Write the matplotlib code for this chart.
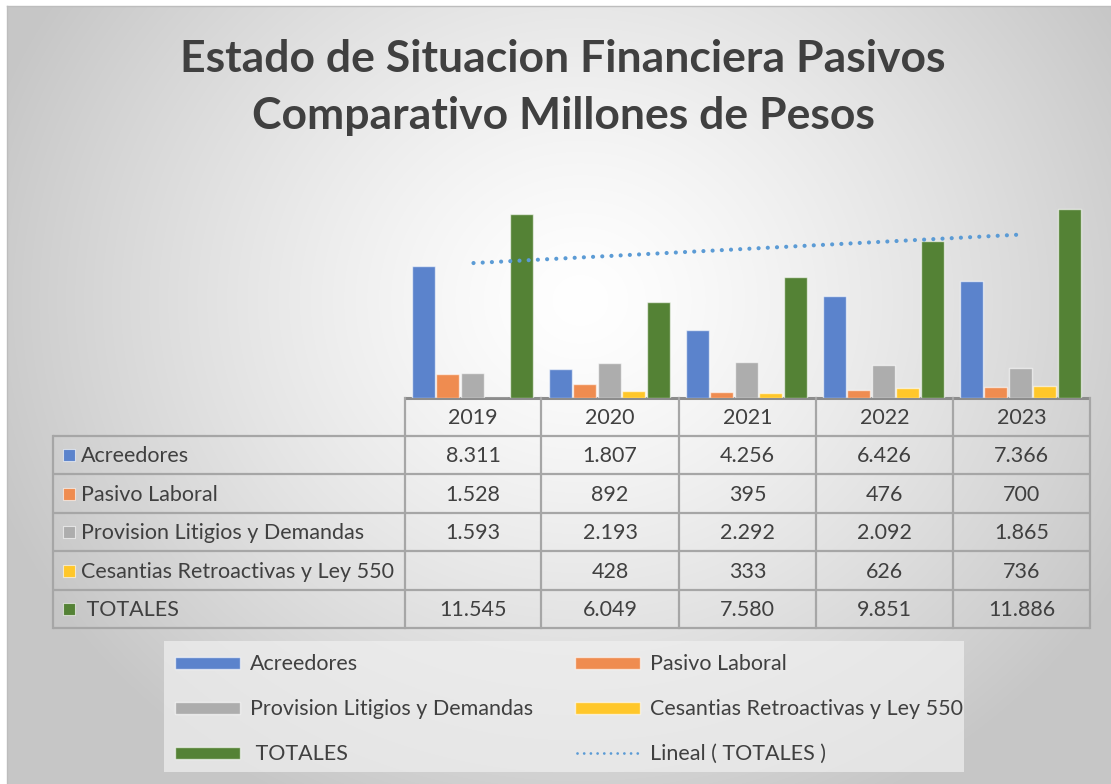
import numpy as np
import matplotlib
matplotlib.use("Agg")
from matplotlib import pyplot as plt
from matplotlib.patches import Rectangle
from matplotlib.lines import Line2D

plt.rcParams['font.family'] = ['Lato', 'DejaVu Sans']

# Datos (millones de pesos)
anios = ['2019', '2020', '2021', '2022', '2023']
series = ['Acreedores', 'Pasivo Laboral', 'Provision Litigios y Demandas',
          'Cesantias Retroactivas y Ley 550', 'TOTALES']
acreedores = [8311, 1807, 4256, 6426, 7366]
pasivo_laboral = [1528, 892, 395, 476, 700]
provision_litigios = [1593, 2193, 2292, 2092, 1865]
cesantias = [None, 428, 333, 626, 736]
totales = [11545, 6049, 7580, 9851, 11886]

valores = [acreedores, pasivo_laboral, provision_litigios, cesantias, totales]
colores = ['#5b83cc', '#ef8c50', '#adadad', '#ffc72a', '#548235']
trend_color = '#5b9bd5'
texto = '#404040'
fs = 15.5

W, H = 1111, 784
fig = plt.figure(figsize=(W / 100, H / 100), dpi=100)

# fondo con degradado radial
bg = fig.add_axes([0, 0, 1, 1])
yy, xx = np.mgrid[0:H, 0:W]
r = np.sqrt(((xx - 580) / 620.0) ** 2 + ((yy - 300) / 560.0) ** 2)
r = np.clip(r, 0, 1)
g = 1.0 - 0.22 * r ** 1.3
img = np.dstack([g, g, g])
img[:6, :, :] = 1.0
img[:, :7, :] = 1.0
bg.imshow(img, extent=[0, W, H, 0], aspect='auto', interpolation='bilinear')
bg.plot([7, W], [6, 6], color='#bdbdbd', lw=1)
bg.plot([7, 7], [6, H], color='#bdbdbd', lw=1)
bg.set_xlim(0, W)
bg.set_ylim(H, 0)
bg.axis('off')

# titulo
bg.text(563, 59, 'Estado de Situacion Financiera Pasivos', ha='center', va='center',
        fontsize=32, fontweight='bold', color=texto)
bg.text(563, 116, 'Comparativo Millones de Pesos', ha='center', va='center',
        fontsize=32, fontweight='bold', color=texto)

# grafico de barras
x0, x1, yb, yt = 405, 1090, 398, 200
ax = fig.add_axes([x0 / W, 1 - yb / H, (x1 - x0) / W, (yb - yt) / H])
ax.patch.set_alpha(0)
x = np.arange(len(anios))
ancho = 0.168
paso = 0.179
for j, (vals, col) in enumerate(zip(valores, colores)):
    v = [0 if a is None else a for a in vals]
    ax.bar(x + (j - 2) * paso - 0.01, v, width=ancho, color=col,
           edgecolor=(1, 1, 1, 0.6), linewidth=1)

# linea de tendencia lineal de TOTALES
coef = np.polyfit(x, totales, 1)
ax.plot(x, np.polyval(coef, x), linestyle=(0, (0.01, 2.2)), color=trend_color,
        lw=3.0, dash_capstyle='round')
ax.set_xlim(-0.5, len(anios) - 0.5)
ax.set_ylim(0, 12450)
ax.axis('off')

# tabla de datos
cols = [405, 541, 679, 816, 953, 1090]
filas = [398, 436, 474, 513, 551, 590, 628]
lc = '#a6a6a6'
left = 53
for k, yv in enumerate(filas):
    xs = cols[0] if k == 0 else left
    bg.plot([xs, cols[-1]], [yv, yv], color='#8c8c8c' if k == 0 else lc,
            lw=2.2 if k == 0 else 1.6, solid_capstyle='butt')
for c in cols:
    bg.plot([c, c], [filas[0], filas[-1]], color=lc, lw=1.6)
bg.plot([left, left], [filas[1], filas[-1]], color=lc, lw=1.6)

for i, a in enumerate(anios):
    cx = (cols[i] + cols[i + 1]) / 2
    bg.text(cx, (filas[0] + filas[1]) / 2 + 1, a, ha='center', va='center',
            fontsize=fs, color=texto)
    for j, vals in enumerate(valores):
        v = vals[i]
        if v is None:
            continue
        s = f'{v:,}'.replace(',', '.')
        bg.text(cx, (filas[j + 1] + filas[j + 2]) / 2 + 1, s, ha='center',
                va='center', fontsize=fs, color=texto)

for j, (nom, col) in enumerate(zip(series, colores)):
    yc = (filas[j + 1] + filas[j + 2]) / 2
    bg.add_patch(Rectangle((63, yc - 6), 12, 12, facecolor=col,
                           edgecolor=(1, 1, 1, 0.6), lw=0.8))
    etiqueta = ' ' + nom if nom == 'TOTALES' else nom
    bg.text(81, yc + 1, etiqueta, ha='left', va='center', fontsize=fs, color=texto)

# leyenda
bg.add_patch(Rectangle((164, 641), 800, 131, facecolor='#f0f0f0', alpha=0.7,
                       edgecolor='none'))
pos = [(175, 663), (575, 663), (175, 708), (575, 708), (175, 753)]
for (px, py), nom, col in zip(pos, series, colores):
    bg.add_patch(Rectangle((px, py - 6), 65, 12, facecolor=col,
                           edgecolor=(1, 1, 1, 0.6), lw=1))
    etiqueta = ' ' + nom if nom == 'TOTALES' else nom
    bg.text(px + 75, py + 1, etiqueta, ha='left', va='center', fontsize=fs,
            color=texto)
bg.add_line(Line2D([577, 639], [753, 753], linestyle=(0, (0.01, 2.4)),
                   color=trend_color, lw=2.0, dash_capstyle='round'))
bg.text(650, 754, 'Lineal ( TOTALES )', ha='left', va='center', fontsize=fs,
        color=texto)

fig.savefig('out.png', dpi=100)
